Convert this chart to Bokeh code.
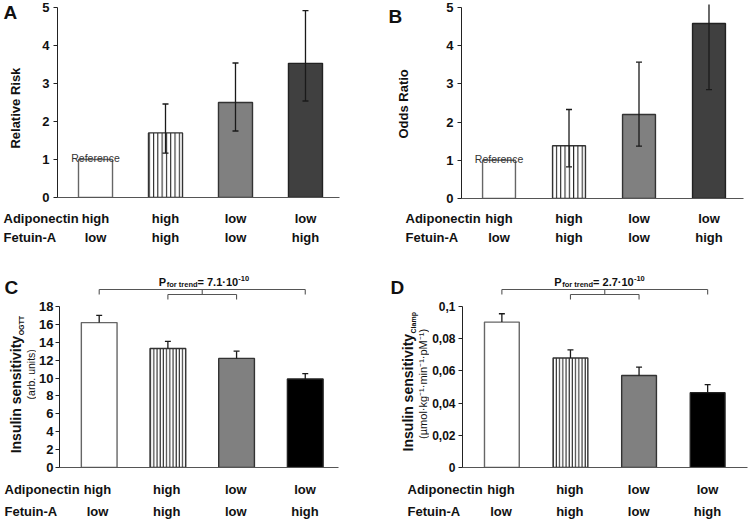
import math
from bokeh.plotting import figure
from bokeh.models import Label, Range1d, FixedTicker, ColumnDataSource
from bokeh.layouts import column, row
from bokeh.embed import file_html
from bokeh.resources import INLINE

FONT = "Liberation Sans"
NAN = float("nan")

# ---------------- data ----------------
positions = [1, 2, 3, 4]
adiponectin = ["high", "high", "low", "low"]
fetuin = ["low", "high", "low", "high"]

rel_risk = [1.0, 1.70, 2.50, 3.53]
rel_risk_lo = [NAN, 1.17, 1.75, 2.54]
rel_risk_hi = [NAN, 2.46, 3.54, 4.92]

odds_ratio = [1.0, 1.38, 2.20, 4.58]
odds_ratio_lo = [NAN, 0.83, 1.37, 2.85]
odds_ratio_hi = [NAN, 2.33, 3.57, 5.20]

isi_ogtt = [16.2, 13.3, 12.2, 9.9]
isi_ogtt_hi = [17.0, 14.1, 13.0, 10.5]

isi_clamp = [0.0903, 0.068, 0.0571, 0.0465]
isi_clamp_hi = [0.0955, 0.073, 0.0624, 0.0515]

ticks_ab = [0, 1, 2, 3, 4, 5]
ticks_c = [0, 2, 4, 6, 8, 10, 12, 14, 16, 18]
ticks_d = [0, 0.02, 0.04, 0.06, 0.08, 0.1]
ticklabels_d = ["0", "0,02", "0,04", "0,06", "0,08", "0,1"]

fills_top = ["#ffffff", "#ffffff", "#808080", "#404040"]
fills_bottom = ["#ffffff", "#ffffff", "#808080", "#000000"]
hatches = [" ", "|", " ", " "]
outlines = ["#666666", "#333333", "#333333", "#222222"]


def bare_figure(w, h, xr, yr):
    f = figure(width=w, height=h, x_range=Range1d(*xr), y_range=Range1d(*yr),
               output_backend="svg", toolbar_location=None,
               x_axis_location=None, y_axis_location=None,
               min_border_left=0, min_border_right=0, min_border_top=0,
               min_border_bottom=0)
    f.outline_line_color = None
    f.xgrid.visible = False
    f.ygrid.visible = False
    return f


def add_text(fig, txt, x, y, size, bold=False, align="left", baseline="middle",
             angle=0.0, color="#111111"):
    fig.add_layout(Label(x=x, y=y, text=txt, text_font=FONT, text_font_size=f"{size}px",
                         text_font_style="bold" if bold else "normal",
                         text_align=align, text_baseline=baseline, angle=angle,
                         text_color=color))


class Panel:
    """strip (letter + y title) | main chart with its y axis ; category rows below."""

    def __init__(self, ox, oy, W, Hmain, Hcat, strip_w, fl, fr, ft, fb, xr, yr,
                 yticks, ytop, top_border=0, tick_size=13, standoff=4):
        self.ox, self.oy = ox, oy
        self.fl, self.fr, self.ft, self.fb = fl, fr, ft, fb
        self.xr, self.yr = xr, yr
        self.strip = bare_figure(strip_w, Hmain, (ox, ox + strip_w), (-(oy + Hmain), -oy))
        self.cat = bare_figure(W, Hcat, (self.dx(ox), self.dx(ox + W)),
                               (-(oy + Hmain + Hcat), -(oy + Hmain)))
        m = figure(width=W - strip_w, height=Hmain, x_range=Range1d(*xr),
                   y_range=Range1d(0, self.dy(oy + top_border)),
                   output_backend="svg", toolbar_location=None,
                   min_border_left=fl - (ox + strip_w), min_border_right=ox + W - fr,
                   min_border_top=top_border, min_border_bottom=oy + Hmain - fb)
        m.outline_line_color = None
        m.xgrid.visible = False
        m.ygrid.visible = False
        ya = m.yaxis[0]
        ya.ticker = FixedTicker(ticks=yticks)
        ya.bounds = (0, ytop)
        ya.axis_line_color = "#222222"
        ya.major_tick_line_color = "#222222"
        ya.major_tick_out = 4
        ya.major_tick_in = 0
        ya.minor_tick_line_color = None
        ya.major_label_text_font = FONT
        ya.major_label_text_font_style = "bold"
        ya.major_label_text_font_size = f"{tick_size}px"
        ya.major_label_text_color = "#111111"
        ya.major_label_standoff = standoff
        xa = m.xaxis[0]
        xa.ticker = FixedTicker(ticks=[])
        xa.axis_line_color = "#555555"
        xa.axis_line_width = 1.2
        xa.major_tick_line_color = None
        xa.minor_tick_line_color = None
        xa.major_label_text_font_size = "0px"
        xa.major_label_standoff = 0
        self.ya = ya
        self.p = m
        self.ppx = (fr - fl) / (xr[1] - xr[0])  # px per x unit
        self.layout = column(row(self.strip, m), self.cat)

    def dx(self, rx):
        return self.xr[0] + (rx - self.fl) / (self.fr - self.fl) * (self.xr[1] - self.xr[0])

    def dy(self, ry):
        return self.yr[1] - (ry - self.ft) / (self.fb - self.ft) * (self.yr[1] - self.yr[0])

    # texts -------------------------------------------------------------
    def strip_text(self, txt, rx, ry, size, **kw):
        add_text(self.strip, txt, rx, -ry, size, **kw)

    def main_text(self, txt, x, ry, size, **kw):
        add_text(self.p, txt, x, self.dy(ry), size, **kw)

    def categories(self, left_x, y1, y2):
        add_text(self.cat, "Adiponectin", self.dx(left_x), -y1, 13, bold=True)
        add_text(self.cat, "Fetuin-A", self.dx(left_x), -y2, 13, bold=True)
        for xp, a, f in zip(positions, adiponectin, fetuin):
            add_text(self.cat, a, xp, -y1, 13, bold=True, align="center")
            add_text(self.cat, f, xp, -y2, 13, bold=True, align="center")

    # marks -------------------------------------------------------------
    def bars(self, vals, width, fills, hatch_scale):
        src = ColumnDataSource(dict(x=positions, top=vals, fill=fills, hatch=hatches,
                                    line=outlines))
        self.p.vbar(x="x", top="top", width=width, bottom=0, source=src,
                    fill_color="fill", line_color="line", line_width=1.4,
                    hatch_pattern="hatch", hatch_color="#111111",
                    hatch_scale=hatch_scale, hatch_weight=1.0)

    def errors(self, lo, hi, cap_px=3.0, both=True):
        cw = cap_px / self.ppx
        self.p.segment(x0=positions, y0=lo, x1=positions, y1=hi,
                       line_color="#1a1a1a", line_width=1.3)
        xs0 = [x - cw for x in positions]
        xs1 = [x + cw for x in positions]
        self.p.segment(x0=xs0, y0=hi, x1=xs1, y1=hi, line_color="#1a1a1a", line_width=1.3)
        if both:
            self.p.segment(x0=xs0, y0=lo, x1=xs1, y1=lo, line_color="#1a1a1a",
                           line_width=1.3)

    def bracket(self, y_top, y_mid, y_bot, mid_x):
        ya, ym, yb = self.dy(y_top), self.dy(y_mid), self.dy(y_bot)
        x0 = [positions[0], positions[0], positions[-1], mid_x, positions[1],
              positions[1], positions[2]]
        x1 = [positions[-1], positions[0], positions[-1], mid_x, positions[2],
              positions[1], positions[2]]
        y0 = [ya, ya, ya, ya, ym, ym, ym]
        y1 = [ya, ym, ym, ym, ym, yb, yb]
        self.p.segment(x0=x0, y0=y0, x1=x1, y1=y1, line_color="#555555", line_width=1.1)

    def p_trend(self, x_start, value_text):
        self.main_text("P", self.dx(x_start), 281.5, 11, bold=True, baseline="alphabetic")
        self.main_text("for trend", self.dx(x_start + 8), 283.5, 7.5, bold=True,
                       baseline="alphabetic")
        self.main_text("= " + value_text + "\u00b710", self.dx(x_start + 39), 281.5, 11,
                       bold=True, baseline="alphabetic")
        self.main_text("-10", self.dx(x_start + 80), 278, 7.5, bold=True,
                       baseline="alphabetic")


# ---------------- panel A ----------------
A = Panel(0, 0, 375, 205, 65, 30, 57, 339, 7, 197, (0.457, 4.486), (0, 5), ticks_ab, 5)
A.bars(rel_risk, 0.486, fills_top, 4.3)
A.errors(rel_risk_lo, rel_risk_hi)
A.strip_text("A", 3, 13, 19, bold=True)
A.strip_text("Relative Risk", 15, 112, 13, bold=True, align="center", angle=math.pi / 2)
A.main_text("Reference", positions[0], 157, 10.5, align="center", baseline="alphabetic",
            color="#333333")
A.categories(3, 218, 237)

# ---------------- panel B (frame top clips the last error bar) ----------------
B = Panel(375, 0, 376, 205, 65, 45, 461, 743, 7, 198, (0.464, 4.493), (0, 5),
          ticks_ab, 5, top_border=4)
B.bars(odds_ratio, 0.47, fills_top, 4.3)
B.errors(odds_ratio_lo, odds_ratio_hi)
B.strip_text("B", 388, 13, 19, bold=True)
B.strip_text("Odds Ratio", 403, 105, 13, bold=True, align="center", angle=math.pi / 2)
B.main_text("Reference", positions[0], 158, 10.5, align="center", baseline="alphabetic",
            color="#333333")
B.categories(405, 218, 237)

# ---------------- panel C ----------------
C = Panel(0, 270, 375, 205, 47, 36, 57, 338, 306, 467, (0.422, 4.484), (0, 18),
          ticks_c, 18, standoff=2)
C.bars(isi_ogtt, 0.52, fills_bottom, 3.2)
C.errors(isi_ogtt, isi_ogtt_hi, both=False)
C.bracket(289, 294, 299, 2.5)
C.strip_text("C", 4, 288, 19, bold=True)
C.strip_text("Insulin sensitivity", 15.5, 338, 14, bold=True, align="right",
             angle=math.pi / 2)
C.strip_text("OGTT", 20.5, 337.5, 7, bold=True, align="left", angle=math.pi / 2)
C.strip_text("(arb. units)", 30, 378, 10.5, align="center", angle=math.pi / 2)
C.p_trend(157, "7.1")
C.categories(4, 489, 511)

# ---------------- panel D ----------------
D = Panel(375, 270, 376, 205, 47, 54, 461, 747, 306, 467, (0.426, 4.581), (0, 0.1),
          ticks_d, 0.1, tick_size=12, standoff=3)
D.ya.major_label_overrides = dict(zip(ticks_d, ticklabels_d))
D.bars(isi_clamp, 0.507, fills_bottom, 3.2)
D.errors(isi_clamp, isi_clamp_hi, both=False)
D.bracket(289, 294, 299, 2.5)
D.strip_text("D", 390, 288, 19, bold=True)
D.strip_text("Insulin sensitivity", 407.5, 336, 14, bold=True, align="right",
             angle=math.pi / 2)
D.strip_text("Clamp", 412.5, 335.5, 7, bold=True, align="left", angle=math.pi / 2)
D.strip_text("(\u00b5mol\u00b7kg\u207b\u00b9\u00b7min\u207b\u00b9\u00b7pM\u207b\u00b9)", 422.5, 388,
             11, align="center", angle=math.pi / 2)
D.p_trend(553, "2.7")
D.categories(407, 489, 511)

layout = column(row(A.layout, B.layout), row(C.layout, D.layout))
open("out.html", "w").write(file_html(layout, INLINE))
